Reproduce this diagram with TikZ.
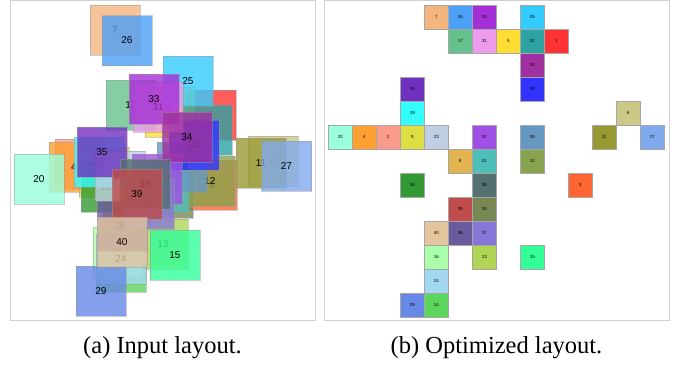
\documentclass[tikz,border=0pt]{standalone}
\usepackage{fontspec}
\setmainfont{Liberation Serif}
\newfontfamily\labfont{Liberation Sans}
\definecolor{c1}{HTML}{FF3333}
\definecolor{c2}{HTML}{FA9A8C}
\definecolor{c3}{HTML}{FF6633}
\definecolor{c4}{HTML}{FFA033}
\definecolor{c5}{HTML}{FFDD33}
\definecolor{c6}{HTML}{CCC888}
\definecolor{c7}{HTML}{F5B57F}
\definecolor{c8}{HTML}{E3B550}
\definecolor{c9}{HTML}{DDDD44}
\definecolor{c10}{HTML}{778855}
\definecolor{c11}{HTML}{999933}
\definecolor{c12}{HTML}{88A34D}
\definecolor{c13}{HTML}{B0D455}
\definecolor{c14}{HTML}{5CD65C}
\definecolor{c15}{HTML}{33FF99}
\definecolor{c16}{HTML}{AAFFAA}
\definecolor{c17}{HTML}{66C28D}
\definecolor{c18}{HTML}{339933}
\definecolor{c19}{HTML}{33FFFF}
\definecolor{c20}{HTML}{99FFDD}
\definecolor{c21}{HTML}{4DBFB8}
\definecolor{c22}{HTML}{2EA3A3}
\definecolor{c23}{HTML}{BFCFE3}
\definecolor{c24}{HTML}{A3D9F0}
\definecolor{c25}{HTML}{33CCFF}
\definecolor{c26}{HTML}{4CA0F8}
\definecolor{c27}{HTML}{80AAEE}
\definecolor{c28}{HTML}{6699C2}
\definecolor{c29}{HTML}{6688E6}
\definecolor{c30}{HTML}{3333FF}
\definecolor{c31}{HTML}{EE9BEE}
\definecolor{c32}{HTML}{A050E6}
\definecolor{c33}{HTML}{A52FD6}
\definecolor{c34}{HTML}{A0309F}
\definecolor{c35}{HTML}{7030C0}
\definecolor{c36}{HTML}{6A5A9E}
\definecolor{c37}{HTML}{8877D9}
\definecolor{c38}{HTML}{557070}
\definecolor{c39}{HTML}{C04C4C}
\definecolor{c40}{HTML}{E3C59E}
\begin{document}
\begin{tikzpicture}[x=1pt,y=-1pt,
  lsq/.style={draw=black!40, line width=0.6pt, fill opacity=0.8, draw opacity=0.5, text opacity=1,
    minimum size=50pt, inner sep=0pt, font=\labfont\fontsize{10}{10}\selectfont},
  rsq/.style={draw=black!35, line width=0.5pt, minimum size=24pt, inner sep=0pt,
    font=\labfont\fontsize{4.5}{4.5}\selectfont},
  frame/.style={draw=black!18, line width=1pt},
  captext/.style={font=\fontsize{24.5}{28}\selectfont, inner sep=0pt}]
\useasboundingbox (0,0) rectangle (681,368);
% frames
\draw[frame] (10.3,0.5) rectangle (315.3,320);
\draw[frame] (324,0.5) rectangle (669.3,320);
% (a) input layout
\foreach \i/\x/\y in {1/211/115, 2/80/164, 3/212/185, 4/74/167, 5/170/112, 6/273/161,
  7/115/30, 8/128/200, 9/104/172, 10/168/193, 11/261/163, 12/210/181, 13/163/244,
  14/121/267, 15/175/255, 16/118/252, 17/131/105, 18/106/187, 19/99/162, 20/39/179,
  21/164/187, 22/207/130, 23/120/176, 24/121/259, 25/188/81, 26/127/40.5, 27/286.5/166,
  28/182/167, 29/101/291, 30/194/145, 31/158/107, 32/157/179, 33/154/99, 34/187/137,
  35/102/152, 36/122/226, 37/149/204, 38/145/184, 39/137/194, 40/122/242}
  \node[lsq, fill=c\i] (a\i) at (\x,\y) {\i};
% (b) optimized layout
\foreach \i/\c/\r in {1/5/2, 2/-2/6, 3/6/8, 4/-3/6, 5/3/2, 6/8/5, 7/0/1, 8/1/7, 9/-1/6,
  10/2/9, 11/7/6, 12/4/7, 13/2/11, 14/0/13, 15/4/11, 16/0/11, 17/1/2, 18/-1/8, 19/-1/5,
  20/-4/6, 21/2/7, 22/4/2, 23/0/6, 24/0/12, 25/4/1, 26/1/1, 27/9/6, 28/4/6, 29/-1/13,
  30/4/4, 31/2/2, 32/2/6, 33/2/1, 34/4/3, 35/-1/4, 36/1/10, 37/2/10, 38/2/8, 39/1/9, 40/0/10}
  \node[rsq, fill=c\i] (b\i) at ({436.3+24*\c},{17.3+24*(\r-1)}) {\i};
% captions
\node[captext] (capa) at (162.5,348) {(a) Input layout.};
\node[captext] (capb) at (496.5,348) {(b) Optimized layout.};
\end{tikzpicture}
\end{document}
